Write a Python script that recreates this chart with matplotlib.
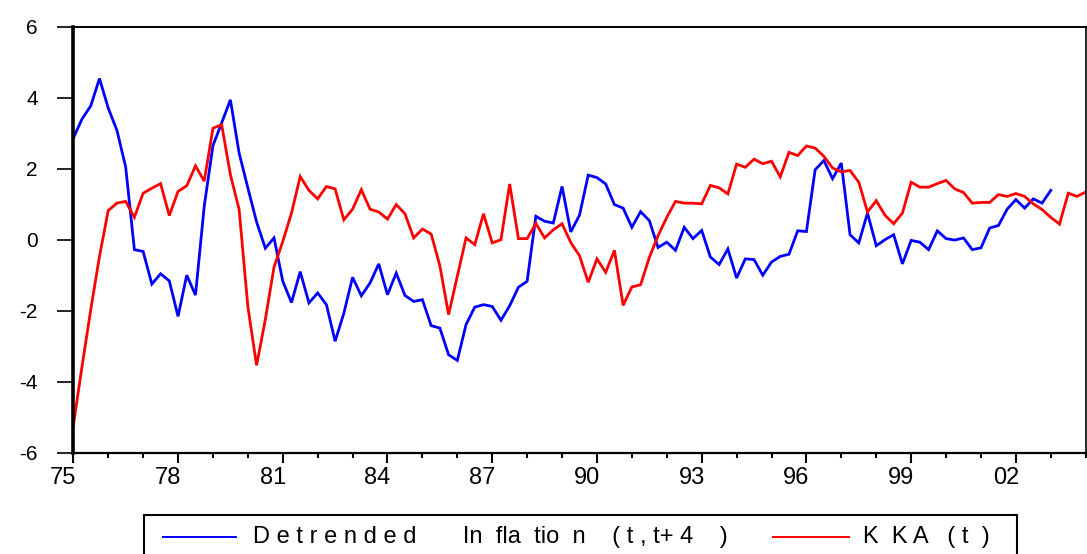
import matplotlib
matplotlib.use("Agg")
import matplotlib.pyplot as plt
import matplotlib.transforms as mtransforms
from matplotlib import font_manager
from matplotlib.lines import Line2D
from matplotlib.patches import Rectangle
import numpy as np

# Quarterly series starting 1975Q1
start_year = 1975
inflation = [
    2.86, 3.40, 3.77, 4.54, 3.71, 3.08, 2.05, -0.28, -0.33, -1.25,
    -0.96, -1.16, -2.16, -1.00, -1.56, 0.94, 2.65, 3.29, 3.94, 2.44,
    1.46, 0.50, -0.24, 0.05, -1.17, -1.77, -0.90, -1.78, -1.50, -1.83,
    -2.86, -2.07, -1.06, -1.58, -1.22, -0.68, -1.55, -0.94, -1.57, -1.74,
    -1.69, -2.42, -2.49, -3.24, -3.40, -2.39, -1.90, -1.83, -1.88, -2.27,
    -1.86, -1.34, -1.17, 0.66, 0.52, 0.47, 1.50, 0.22, 0.69, 1.82,
    1.75, 1.57, 0.99, 0.89, 0.35, 0.79, 0.54, -0.22, -0.07, -0.30,
    0.35, 0.03, 0.26, -0.49, -0.70, -0.26, -1.08, -0.54, -0.56, -1.00,
    -0.63, -0.47, -0.41, 0.25, 0.23, 1.97, 2.23, 1.72, 2.16, 0.14,
    -0.09, 0.75, -0.17, 0.00, 0.14, -0.68, -0.02, -0.07, -0.28, 0.25,
    0.03, -0.01, 0.05, -0.28, -0.23, 0.33, 0.40, 0.86, 1.13, 0.89,
    1.15, 1.03, 1.39,
]
kka = [
    -5.24, -3.57, -1.97, -0.47, 0.82, 1.03, 1.08, 0.63, 1.31, 1.45,
    1.58, 0.68, 1.36, 1.52, 2.08, 1.65, 3.14, 3.24, 1.83, 0.85,
    -1.88, -3.54, -2.25, -0.77, -0.05, 0.75, 1.78, 1.39, 1.15, 1.50,
    1.43, 0.56, 0.86, 1.41, 0.86, 0.78, 0.58, 0.99, 0.73, 0.05,
    0.30, 0.16, -0.73, -2.11, -1.03, 0.05, -0.14, 0.73, -0.09, 0.00,
    1.57, 0.03, 0.03, 0.46, 0.05, 0.28, 0.45, -0.08, -0.45, -1.20,
    -0.54, -0.92, -0.30, -1.85, -1.33, -1.27, -0.50, 0.11, 0.63, 1.08,
    1.03, 1.03, 1.01, 1.53, 1.46, 1.29, 2.13, 2.04, 2.27, 2.14,
    2.21, 1.77, 2.46, 2.37, 2.64, 2.58, 2.35, 2.02, 1.91, 1.95,
    1.62, 0.78, 1.10, 0.69, 0.45, 0.75, 1.62, 1.48, 1.48, 1.58,
    1.67, 1.43, 1.33, 1.03, 1.05, 1.05, 1.27, 1.22, 1.30, 1.22,
    1.01, 0.85, 0.63, 0.44, 1.31, 1.22, 1.34,
]
major_years = list(range(1975, 2003, 3))
major_labels = ["75", "78", "81", "84", "87", "90", "93", "96", "99", "02"]
y_ticks = [-6, -4, -2, 0, 2, 4, 6]
legend_labels = [
    "D e t r e n d e d       In  fla  tio  n    ( t , t+ 4    )",
    "K  K A   ( t  )",
]

BLUE = "#0000ff"
RED = "#ff0000"

names = {f.name for f in font_manager.fontManager.ttflist}
base_font = "Liberation Sans" if "Liberation Sans" in names else "DejaVu Sans"

W, H = 1087, 554
fig = plt.figure(figsize=(W / 100, H / 100), dpi=100)
fig.patch.set_facecolor("white")

left, right, top, bottom = 73.3, 1085.7, 26.7, 452.7
ax = fig.add_axes([left / W, 1 - bottom / H, (right - left) / W, (bottom - top) / H])

x_inf = start_year + np.arange(len(inflation)) / 4.0
x_kka = start_year + np.arange(len(kka)) / 4.0
ax.plot(x_inf, inflation, color=BLUE, lw=2.0, solid_joinstyle="miter")
ax.plot(x_kka, kka, color=RED, lw=2.0, solid_joinstyle="miter")

ax.set_xlim(1975, 2004)
ax.set_ylim(-6, 6)

ax.set_xticks(major_years)
ax.set_xticklabels(major_labels, family=base_font, fontsize=17)
ax.set_xticks(range(1975, 2005), minor=True)
ax.tick_params(axis="x", which="major", direction="out", length=7.5, width=1.5, pad=3)
ax.tick_params(axis="x", which="minor", direction="out", length=3.8, width=1.5)

# year labels sit a little to the left of their ticks
shift = mtransforms.ScaledTranslation(-10 / 100, 0, fig.dpi_scale_trans)
for lab in ax.get_xticklabels():
    lab.set_transform(lab.get_transform() + shift)

ax.set_yticks(y_ticks)
ax.set_yticklabels([str(v) for v in y_ticks], family=base_font, fontsize=15)
ax.tick_params(axis="y", which="major", direction="out", length=11.5, width=1.2, pad=14)
ax.tick_params(axis="y", which="minor", left=False)

ax.spines["left"].set_linewidth(2.6)
ax.spines["bottom"].set_linewidth(1.6)
ax.spines["top"].set_linewidth(1.4)
ax.spines["right"].set_linewidth(1.2)

# Legend box (drawn by hand in pixel coordinates of the figure)
def fx(px):
    return px / W

def fy(py):
    return 1 - py / H

box = Rectangle((fx(143.5), fy(560)), fx(1017) - fx(143.5), fy(515) - fy(560),
                transform=fig.transFigure, fill=False, lw=1.5, edgecolor="black",
                clip_on=False)
fig.add_artist(box)

ly = fy(536.5)
fig.add_artist(Line2D([fx(163), fx(236)], [ly, ly], transform=fig.transFigure,
                      color=BLUE, lw=1.4))
fig.text(fx(253), ly, legend_labels[0], family=base_font, fontsize=17,
         va="center", ha="left")
fig.add_artist(Line2D([fx(773), fx(849)], [ly, ly], transform=fig.transFigure,
                      color=RED, lw=1.4))
fig.text(fx(863), ly, legend_labels[1], family=base_font, fontsize=17,
         va="center", ha="left")

fig.savefig("out.png", dpi=100, facecolor="white")
